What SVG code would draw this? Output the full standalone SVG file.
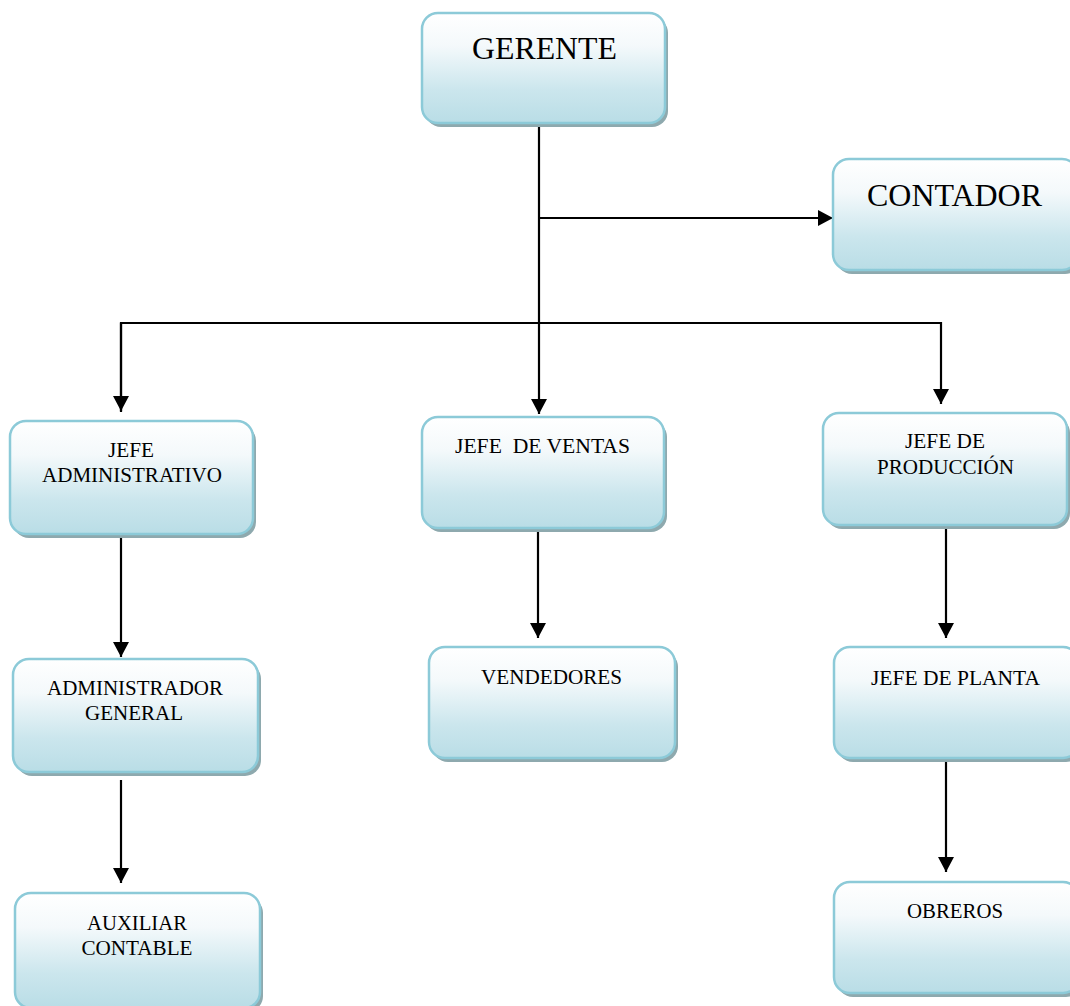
<svg xmlns="http://www.w3.org/2000/svg" width="1070" height="1006" viewBox="0 0 1070 1006">
<defs>
<linearGradient id="fill" x1="0" y1="0" x2="0" y2="1">
<stop offset="0" stop-color="#ffffff"/>
<stop offset="0.3" stop-color="#f4f9fb"/>
<stop offset="0.7" stop-color="#cbe6ed"/>
<stop offset="1" stop-color="#b9dde6"/>
</linearGradient>
<marker id="arr" markerUnits="userSpaceOnUse" markerWidth="16" markerHeight="16" refX="15" refY="8" orient="auto" viewBox="0 0 16 16">
<path d="M0,0 L15,8 L0,16 z" fill="#000"/>
</marker>
</defs>
<style>
.sh{fill:#8ea9ae}
.bx{fill:url(#fill);stroke:#8ccad8;stroke-width:2.5}
.t{font-family:"Liberation Serif","Times New Roman",serif;font-size:20px;fill:#000;text-anchor:middle}
.big{font-size:31px}
.c{stroke:#000;stroke-width:2.2;fill:none}
.a{marker-end:url(#arr)}
</style>
<rect width="1070" height="1006" fill="#fff"/>
<g id="connectors">
<line class="c a" x1="539" y1="124" x2="539" y2="414"/>
<line class="c a" x1="539" y1="218" x2="833" y2="218"/>
<polyline class="c" points="121,412 121,323 941,323"/>
<line class="c a" x1="121" y1="323" x2="121" y2="411"/>
<line class="c a" x1="941" y1="322" x2="941" y2="404"/>
<line class="c a" x1="121" y1="535" x2="121" y2="657"/>
<line class="c a" x1="121" y1="780" x2="121" y2="883"/>
<line class="c a" x1="538" y1="530" x2="538" y2="638"/>
<line class="c a" x1="946" y1="527" x2="946" y2="638"/>
<line class="c a" x1="946" y1="760" x2="946" y2="872"/>
</g>
<g id="gerente">
<rect class="sh" x="425" y="17" width="243" height="110" rx="16"/>
<rect class="bx" x="422" y="13" width="243" height="110" rx="16"/>
<text class="t big" x="544.5" y="59" textLength="145" lengthAdjust="spacingAndGlyphs">GERENTE</text>
</g>
<g id="contador">
<rect class="sh" x="836" y="163" width="245" height="111" rx="16"/>
<rect class="bx" x="833" y="159" width="245" height="111" rx="16"/>
<text class="t big" x="954.5" y="206" textLength="175" lengthAdjust="spacingAndGlyphs">CONTADOR</text>
</g>
<g id="jefe-administrativo">
<rect class="sh" x="13" y="425" width="243" height="113" rx="16"/>
<rect class="bx" x="10" y="421" width="243" height="113" rx="16"/>
<text class="t" x="131" y="457" textLength="46" lengthAdjust="spacingAndGlyphs">JEFE</text>
<text class="t" x="132" y="482" textLength="180" lengthAdjust="spacingAndGlyphs">ADMINISTRATIVO</text>
</g>
<g id="jefe-ventas">
<rect class="sh" x="425" y="421" width="242" height="111" rx="16"/>
<rect class="bx" x="422" y="417" width="242" height="111" rx="16"/>
<text class="t" x="542.5" y="453" textLength="175" lengthAdjust="spacingAndGlyphs" xml:space="preserve">JEFE  DE VENTAS</text>
</g>
<g id="jefe-produccion">
<rect class="sh" x="826" y="417" width="244" height="112" rx="16"/>
<rect class="bx" x="823" y="413" width="244" height="112" rx="16"/>
<text class="t" x="945" y="448" textLength="80" lengthAdjust="spacingAndGlyphs">JEFE DE</text>
<text class="t" x="945.5" y="474" textLength="137" lengthAdjust="spacingAndGlyphs">PRODUCCIÓN</text>
</g>
<g id="administrador-general">
<rect class="sh" x="16" y="663" width="245" height="113" rx="16"/>
<rect class="bx" x="13" y="659" width="245" height="113" rx="16"/>
<text class="t" x="135" y="695" textLength="176" lengthAdjust="spacingAndGlyphs">ADMINISTRADOR</text>
<text class="t" x="134" y="720" textLength="98" lengthAdjust="spacingAndGlyphs">GENERAL</text>
</g>
<g id="vendedores">
<rect class="sh" x="432" y="651" width="246" height="111" rx="16"/>
<rect class="bx" x="429" y="647" width="246" height="111" rx="16"/>
<text class="t" x="551.5" y="684" textLength="141" lengthAdjust="spacingAndGlyphs">VENDEDORES</text>
</g>
<g id="jefe-planta">
<rect class="sh" x="837" y="651" width="245" height="111" rx="16"/>
<rect class="bx" x="834" y="647" width="245" height="111" rx="16"/>
<text class="t" x="955.5" y="685" textLength="169" lengthAdjust="spacingAndGlyphs">JEFE DE PLANTA</text>
</g>
<g id="auxiliar-contable">
<rect class="sh" x="18" y="897" width="245" height="115" rx="16"/>
<rect class="bx" x="15" y="893" width="245" height="115" rx="16"/>
<text class="t" x="137" y="930" textLength="100" lengthAdjust="spacingAndGlyphs">AUXILIAR</text>
<text class="t" x="137" y="955" textLength="111" lengthAdjust="spacingAndGlyphs">CONTABLE</text>
</g>
<g id="obreros">
<rect class="sh" x="837" y="886" width="245" height="111" rx="16"/>
<rect class="bx" x="834" y="882" width="245" height="111" rx="16"/>
<text class="t" x="955" y="918" textLength="96" lengthAdjust="spacingAndGlyphs">OBREROS</text>
</g>
</svg>
